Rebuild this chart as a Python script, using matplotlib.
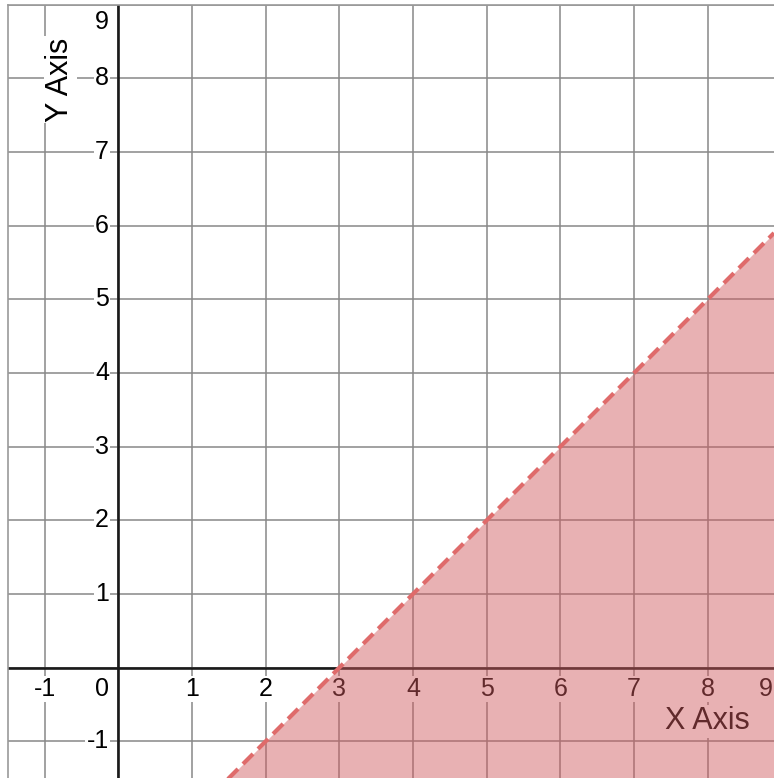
import matplotlib
matplotlib.use("Agg")
from matplotlib import pyplot as plt
import numpy as np

# 不等式 y < x - 3 的边界
slope = 1
intercept = -3
x_ticks = [-1, 1, 2, 3, 4, 5, 6, 7, 8, 9]
y_ticks = [-1, 1, 2, 3, 4, 5, 6, 7, 8, 9]
x_range = (-1.5, 8.9)
y_range = (-1.5, 9.0)

plt.rcParams['font.family'] = ['Liberation Sans', 'DejaVu Sans']

fig = plt.figure(figsize=(7.74, 7.78), dpi=100)
ax = fig.add_axes([8 / 774, 0, 766 / 774, 773.3 / 778])
ax.set_xlim(*x_range)
ax.set_ylim(*y_range)
ax.set_xticks([])
ax.set_yticks([])
for side in ['right', 'bottom']:
    ax.spines[side].set_visible(False)
for side in ['left', 'top']:
    ax.spines[side].set_color('#999999')
    ax.spines[side].set_linewidth(1.2)

# 网格
for v in range(-1, 10):
    ax.axvline(v, color='#888888', lw=1.1, zorder=1)
    ax.axhline(v, color='#888888', lw=1.1, zorder=1)

# 坐标轴
ax.axhline(0, color='#1a1a1a', lw=1.9, zorder=2)
ax.axvline(0, color='#1a1a1a', lw=1.9, zorder=2)

box = dict(boxstyle='square,pad=0.05', fc='white', ec='none')
fs = 18
for t in x_ticks:
    # 靠边的标签往里挪
    tx = min(t, x_range[1] - 0.11)
    ax.text(tx, -0.29, str(t), ha='center', va='center', fontsize=fs,
            color='black', bbox=box, zorder=3)
for t in y_ticks:
    ty = min(t, y_range[1] - 0.23)
    ax.text(-0.13, ty, str(t), ha='right', va='center', fontsize=fs,
            color='black', bbox=box, zorder=3)
ax.text(-0.13, -0.29, '0', ha='right', va='center', fontsize=fs,
        color='black', bbox=box, zorder=3)

ax.text(-0.79, 7.98, 'Y Axis', rotation=90, ha='center', va='center',
        fontsize=22, bbox=box, zorder=3)
ax.text(8.0, -0.73, 'X Axis', ha='center', va='center',
        fontsize=22, bbox=box, zorder=3)

# 阴影区域和虚线边界
xs = np.array(x_range)
ys = slope * xs + intercept
ax.fill_between(xs, ys, y_range[0] - 1, color='#d05a5e', alpha=0.47,
                lw=0, zorder=4)
ax.plot(xs, ys, color='#df6b6b', lw=3, dashes=(3.4, 1.7), zorder=5,
        solid_capstyle='butt')

fig.savefig('out.png', dpi=100)
